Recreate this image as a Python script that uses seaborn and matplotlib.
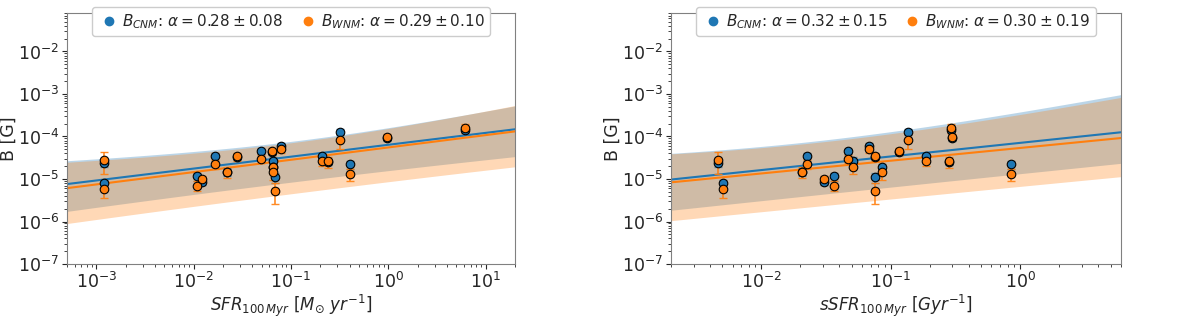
import numpy as np
import pandas as pd
import matplotlib
matplotlib.use("Agg")
import matplotlib.pyplot as plt
import seaborn as sns
from matplotlib.lines import Line2D
from matplotlib.ticker import LogLocator, NullFormatter

# galaxies: star formation rate, specific SFR, B of cold and warm medium
sfr = [1.2e-3, 1.2e-3, 1.08e-2, 1.23e-2, 1.64e-2, 2.2e-2, 2.8e-2, 4.9e-2, 6.4e-2, 6.5e-2,
       6.6e-2, 6.8e-2, 7.9e-2, 0.21, 0.24, 0.32, 0.40, 0.98, 6.1]
ssfr = [4.6e-3, 5.1e-3, 3.65e-2, 3.05e-2, 2.25e-2, 2.06e-2, 7.6e-2, 4.7e-2, 0.115, 5.1e-2,
        8.5e-2, 7.6e-2, 6.8e-2, 0.189, 0.28, 0.136, 0.85, 0.30, 0.29]
b_cnm = [2.4e-5, 8.0e-6, 1.15e-5, 8.5e-6, 3.4e-5, 1.5e-5, 3.3e-5, 4.5e-5, 4.3e-5, 2.7e-5,
         1.9e-5, 1.1e-5, 6.0e-5, 3.4e-5, 2.5e-5, 1.31e-4, 2.2e-5, 0.9e-4, 1.45e-4]
b_wnm = [2.85e-5, 5.8e-6, 7.0e-6, 1.0e-5, 2.3e-5, 1.5e-5, 3.4e-5, 3.0e-5, 4.5e-5, 1.9e-5,
         1.46e-5, 5.3e-6, 5.2e-5, 2.7e-5, 2.6e-5, 0.83e-4, 1.3e-5, 0.97e-4, 1.57e-4]
# relative errors
rel_cnm = [0.2, 0.2, 0.2, 0.15, 0.2, 0.2, 0.15, 0.15, 0.15, 0.2,
           0.2, 0.25, 0.15, 0.15, 0.15, 0.15, 0.2, 0.15, 0.15]
rel_wnm = [0.55, 0.4, 0.25, 0.15, 0.25, 0.3, 0.2, 0.2, 0.2, 0.3,
           0.35, 0.5, 0.2, 0.25, 0.3, 0.4, 0.3, 0.15, 0.25]

# fit results per panel [SFR, sSFR]
alpha_cnm = [0.28, 0.32]
alpha_cnm_err = [0.08, 0.15]
logA_cnm = [-4.195, -4.15]
alpha_wnm = [0.29, 0.30]
alpha_wnm_err = [0.10, 0.19]
logA_wnm = [-4.258, -4.27]

# confidence band shape (dex): pivot, upper scatter, upper slope spread, lower scatter, lower slope spread
band_pivot = [-1.0, -1.7]
band_cnm = [[0.36, 0.18, 0.60, 0.10], [0.55, 0.28, 0.72, 0.05]]
band_wnm = [[0.40, 0.20, 0.80, 0.10], [0.60, 0.30, 0.90, 0.05]]

xlims = [(5e-4, 20), (2e-3, 6)]
xlabels = [r"$SFR_{100\,Myr}\ [M_{\odot}\ yr^{-1}]$", r"$sSFR_{100\,Myr}\ [Gyr^{-1}]$"]

sns.set_style("ticks")
plt.rcParams['font.family'] = ['DejaVu Sans']
plt.rcParams['mathtext.fontset'] = 'dejavusans'

df = pd.DataFrame({"sfr": sfr, "ssfr": ssfr, "cnm": b_cnm, "wnm": b_wnm,
                   "e_cnm": np.array(b_cnm) * np.array(rel_cnm),
                   "e_wnm": np.array(b_wnm) * np.array(rel_wnm)})

fig = plt.figure(figsize=(12, 3.18), dpi=100)
ax1 = fig.add_axes([0.0558, 0.1698, 0.3733, 0.789])
ax2 = fig.add_axes([0.559, 0.1698, 0.375, 0.789])

for i, (ax, xcol) in enumerate([(ax1, "sfr"), (ax2, "ssfr")]):
    xs = np.logspace(np.log10(xlims[i][0]), np.log10(xlims[i][1]), 400)
    lx = np.log10(xs)
    series = [("cnm", alpha_cnm[i], logA_cnm[i], band_cnm[i], "C0"),
              ("wnm", alpha_wnm[i], logA_wnm[i], band_wnm[i], "C1")]
    for name, a, logA, bp, col in series:
        line = logA + a * lx
        d = lx - band_pivot[i]
        up = line + np.sqrt(bp[0] ** 2 + (bp[1] * d) ** 2)
        lo = line - np.sqrt(bp[2] ** 2 + (bp[3] * d) ** 2)
        ax.fill_between(xs, 10 ** lo, 10 ** up, color=col, alpha=0.3, lw=0, zorder=1)
    for name, a, logA, bp, col in series:
        fit = pd.DataFrame({"x": xs, "y": 10 ** (logA + a * lx)})
        sns.lineplot(data=fit, x="x", y="y", color=col, lw=1.5, ax=ax, zorder=2)
    for name, a, logA, bp, col in series:
        ax.errorbar(df[xcol], df[name], yerr=df["e_" + name], fmt="none",
                    ecolor=col, alpha=0.6 if name == "cnm" else 0.9,
                    elinewidth=1.2, capsize=3, zorder=3)
        sns.scatterplot(data=df, x=xcol, y=name, color=col, edgecolor="black",
                        linewidth=0.8, s=38, ax=ax, zorder=4)

    ax.set_xscale("log")
    ax.set_yscale("log")
    ax.set_xlim(*xlims[i])
    ax.set_ylim(1e-7, 8e-2)
    ax.set_xlabel(xlabels[i], fontsize=12, labelpad=1)
    ax.set_ylabel("B [G]", fontsize=12.5, labelpad=0)
    ax.yaxis.set_major_locator(LogLocator(base=10, numticks=20))
    ax.yaxis.set_minor_locator(LogLocator(base=10, subs=np.arange(2, 10), numticks=40))
    ax.yaxis.set_minor_formatter(NullFormatter())
    ax.tick_params(labelsize=12.5, direction="out", pad=2)
    for sp in ax.spines.values():
        sp.set_color("0.5")

    handles = [Line2D([], [], marker="o", ls="", color="C0", markersize=6),
               Line2D([], [], marker="o", ls="", color="C1", markersize=6)]
    labels = [r"$B_{CNM}$: $\alpha = %.2f \pm %.2f$" % (alpha_cnm[i], alpha_cnm_err[i]),
              r"$B_{WNM}$: $\alpha = %.2f \pm %.2f$" % (alpha_wnm[i], alpha_wnm_err[i])]
    ax.legend(handles, labels, loc="upper center", bbox_to_anchor=(0.5, 1.055), ncol=2,
              fontsize=11, handletextpad=0.1, columnspacing=0.9, borderpad=0.35,
              handlelength=1.5, framealpha=1)

fig.savefig("out.png", dpi=100)
